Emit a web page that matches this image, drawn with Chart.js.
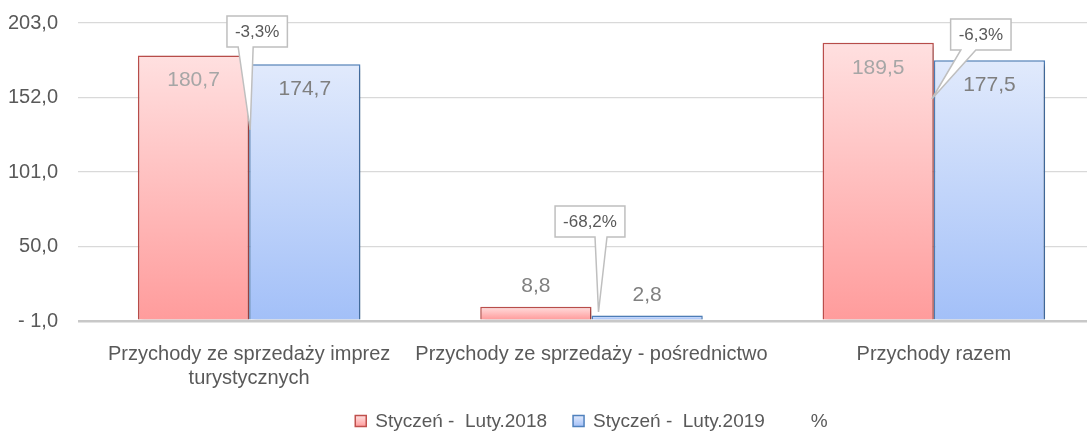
<!DOCTYPE html>
<html>
<head>
<meta charset="utf-8">
<script src="https://cdn.jsdelivr.net/npm/chart.js@4/dist/chart.umd.min.js"></script>
<style>
  html, body { margin:0; padding:0; background:#fff; overflow:hidden; }
  #wrap { width:1105px; height:436px; }
</style>
</head>
<body>
<div id="wrap"><canvas id="salesChart" width="1105" height="436"></canvas></div>
<script>
// chart data
const categories = [
  ['Przychody ze sprzedaży imprez', 'turystycznych'],
  'Przychody ze sprzedaży - pośrednictwo',
  'Przychody razem'
];
const seriesNames = ['Styczeń -  Luty.2018', 'Styczeń -  Luty.2019', '%'];
const values2018 = [180.7, 8.8, 189.5];
const values2019 = [174.7, 2.8, 177.5];
const changePct = [-3.3, -68.2, -6.3];
const yTicks = [-1, 50, 101, 152, 203];

const FONT = "'Liberation Sans', Arial, sans-serif";
const TEXT = '#595959';

const fmt = v => {
  const s = Math.abs(v).toFixed(1).replace('.', ',');
  return v < 0 ? '- ' + s : s;
};

// vertical gradient from bar top down to its base
function barGradient(topCol, botCol, fallback){
  return (ctx) => {
    const chart = ctx.chart;
    if(ctx.type !== 'data' || !chart.chartArea || !ctx.parsed) return fallback;
    const y = chart.scales.y;
    const top = y.getPixelForValue(ctx.parsed.y);
    const base = y.getPixelForValue(0);
    if(!isFinite(top) || !isFinite(base) || top === base) return fallback;
    const g = chart.ctx.createLinearGradient(0, top, 0, base);
    g.addColorStop(0, topCol);
    g.addColorStop(1, botCol);
    return g;
  };
}

/* soft shadow behind the bars */
const barShadow = {
  id: 'barShadow',
  beforeDatasetDraw(chart, args){
    if(args.meta.type !== 'bar') return;
    const c = chart.ctx;
    c.save();
    c.shadowColor = 'rgba(0,0,0,0.28)';
    c.shadowBlur = 5;
    c.shadowOffsetX = 2;
    c.shadowOffsetY = 2;
  },
  afterDatasetDraw(chart, args){
    if(args.meta.type !== 'bar') return;
    chart.ctx.restore();
  }
};

/* value labels: inside the top for tall bars, above for short ones */
const valueLabels = {
  id: 'valueLabels',
  afterDatasetsDraw(chart, args, opts){
    const c = chart.ctx;
    c.save();
    c.font = '21px ' + FONT;
    c.textAlign = 'center';
    c.textBaseline = 'middle';
    [0, 1].forEach(di => {
      const meta = chart.getDatasetMeta(di);
      meta.data.forEach((bar, i) => {
        const v = chart.data.datasets[di].data[i];
        const h = bar.base - bar.y;
        let y, col;
        if(h > 40){ y = bar.y + 25; col = opts.inside[di]; }
        else { y = bar.y - 20; col = opts.outside; }
        c.fillStyle = col;
        c.fillText(fmt(v), bar.x, y);
      });
    });
    c.restore();
  }
};

/* callout boxes for the % change */
const callouts = {
  id: 'callouts',
  afterDatasetsDraw(chart, args, opts){
    const c = chart.ctx;
    const xs = chart.scales.x;
    const data = chart.data.datasets[2].data;
    c.save();
    c.font = '17px ' + FONT;
    data.forEach((v, i) => {
      const L = opts.layout[i];
      const txt = v.toFixed(1).replace('.', ',') + '%';
      const cx = xs.getPixelForValue(i);
      const w = c.measureText(txt).width + 16;
      const h = 31;
      const bx = cx + L.dx - w/2, by = L.top;
      const bc = cx + L.dx;
      c.beginPath();
      c.moveTo(bx, by);
      c.lineTo(bx + w, by);
      c.lineTo(bx + w, by + h);
      c.lineTo(bc + L.baseR, by + h);
      c.lineTo(cx + L.tipDx, L.tipY);
      c.lineTo(bc + L.baseL, by + h);
      c.lineTo(bx, by + h);
      c.closePath();
      c.fillStyle = '#ffffff';
      c.fill();
      c.strokeStyle = '#bfbfbf';
      c.lineWidth = 1.5;
      c.stroke();
      c.fillStyle = TEXT;
      c.textAlign = 'center';
      c.textBaseline = 'middle';
      c.fillText(txt, bc, by + h/2 + 1);
    });
    c.restore();
  }
};

/* legend drawn under the chart */
const bottomLegend = {
  id: 'bottomLegend',
  afterDraw(chart, args, opts){
    const c = chart.ctx;
    const ds = chart.data.datasets;
    c.save();
    c.font = '19px ' + FONT;
    c.textBaseline = 'middle';
    const box = 11, gap = 9, itemGap = 26;
    const widths = ds.map(d => box + gap + c.measureText(d.label).width);
    const total = widths.reduce((a, b) => a + b, 0) + itemGap * (ds.length - 1);
    const area = chart.chartArea;
    let x = (area.left + area.right) / 2 - total / 2;
    const y = opts.y;
    ds.forEach((d, i) => {
      if(d.type !== 'line'){
        const g = c.createLinearGradient(0, y - box/2, 0, y + box/2);
        g.addColorStop(0, opts.markTop[i]);
        g.addColorStop(1, opts.markBot[i]);
        c.fillStyle = g;
        c.fillRect(x, y - box/2, box, box);
        c.strokeStyle = d.borderColor;
        c.lineWidth = 1.5;
        c.strokeRect(x, y - box/2, box, box);
      }
      c.fillStyle = TEXT;
      c.fillText(d.label, x + box + gap, y + 1);
      x += widths[i] + itemGap;
    });
    c.restore();
  }
};

document.addEventListener('DOMContentLoaded', () => {
  const el = document.getElementById('salesChart');
  new Chart(el, {
    type: 'bar',
    data: {
      labels: categories,
      datasets: [
        {
          label: seriesNames[0],
          data: values2018,
          backgroundColor: barGradient('#ffe0e0', '#ff9c9c', '#ffc4c4'),
          borderColor: '#c0504d',
          borderWidth: 1.5,
          categoryPercentage: 0.65,
          barPercentage: 1.0
        },
        {
          label: seriesNames[1],
          data: values2019,
          backgroundColor: barGradient('#e1eafc', '#a3c0f8', '#c5d7fa'),
          borderColor: '#4f81bd',
          borderWidth: 1.5,
          categoryPercentage: 0.65,
          barPercentage: 1.0
        },
        {
          label: seriesNames[2],
          type: 'line',
          data: changePct,
          yAxisID: 'pct',
          showLine: false,
          pointRadius: 0,
          pointHoverRadius: 0
        }
      ]
    },
    options: {
      responsive: false,
      animation: false,
      layout: { padding: { top: 23, left: 0, right: 0, bottom: 0 } },
      plugins: {
        legend: { display: false },
        tooltip: { enabled: false },
        valueLabels: { inside: ['#a6a6a6', '#7f7f7f'], outside: '#808080' },
        callouts: {
          layout: [
            { dx: 8, top: 16, tipDx: 1, tipY: 130, baseL: -19, baseR: -4 },
            { dx: -1.5, top: 206, tipDx: 7, tipY: 312, baseL: 5, baseR: 17 },
            { dx: 47, top: 19, tipDx: -2, tipY: 99, baseL: -20, baseR: -5 }
          ]
        },
        bottomLegend: {
          y: 421,
          markTop: ['#ffe0e0', '#e1eafc'],
          markBot: ['#ff9c9c', '#a3c0f8']
        }
      },
      scales: {
        x: {
          grid: { display: false },
          border: { display: false },
          ticks: {
            color: TEXT,
            font: { family: FONT, size: 20, lineHeight: 1.2 },
            padding: 13,
            maxRotation: 0,
            autoSkip: false
          },
          afterFit(scale){ scale.height = 115; }
        },
        y: {
          min: -1,
          max: 203,
          afterBuildTicks(scale){ scale.ticks = yTicks.map(v => ({ value: v })); },
          grid: {
            drawTicks: false,
            color: ctx => ctx.tick && ctx.tick.value === -1 ? '#c8c8c8' : '#d9d9d9',
            lineWidth: ctx => ctx.tick && ctx.tick.value === -1 ? 2.5 : 1.2
          },
          border: { display: false },
          ticks: {
            color: TEXT,
            font: { family: FONT, size: 20 },
            padding: 20,
            callback: v => fmt(v)
          },
          afterFit(scale){
            scale.width = 78;
            scale.paddingTop = 0;
            scale.paddingBottom = 0;
          }
        },
        pct: {
          display: false,
          min: -100,
          max: 0
        }
      }
    },
    plugins: [barShadow, valueLabels, callouts, bottomLegend]
  });
});
</script>
</body>
</html>
